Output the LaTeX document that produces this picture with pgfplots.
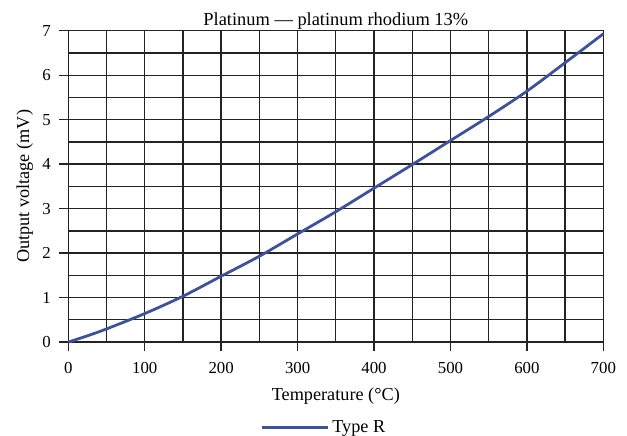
\documentclass[border=0pt]{standalone}
\usepackage{pgfplots}
\pgfplotsset{compat=1.18}
\usepackage{fontspec}
\setmainfont{Liberation Serif}
\definecolor{curveblue}{RGB}{61,82,155}
\definecolor{gridc}{RGB}{35,35,35}
\begin{document}
\fontsize{11.4}{13.7}\selectfont
\begin{tikzpicture}[font=\fontsize{11.4}{13.7}\selectfont]
\begin{axis}[
  scale only axis,
  width=334.4pt, height=194.6pt,
  xmin=0, xmax=700, ymin=0, ymax=7,
  xtick={0,100,...,700}, ytick={0,1,...,7},
  minor x tick num=1, minor y tick num=1,
  grid=both,
  major grid style={gridc, line width=0.85pt},
  minor grid style={gridc, line width=0.85pt},
  axis line style={gridc, line width=0.85pt},
  tick style={gridc, line width=0.85pt},
  tick align=outside, tick pos=left,
  major tick length=5.9pt, minor tick length=0pt,
  /pgf/number format/assume math mode=true,
  ticklabel style={font=\fontsize{10.5}{12}\selectfont},
  xticklabel style={yshift=-2.5pt},
  yticklabel style={xshift=-1pt},
  title={Platinum --- platinum rhodium 13\%},
  title style={at={(axis description cs:0.5,1)}, anchor=base, yshift=-2.5pt, font=\fontsize{11.5}{13.8}\selectfont},
  xlabel={Temperature (°C)},
  xlabel style={at={(axis description cs:0.5,0)}, anchor=base, yshift=-36.3pt, font=\fontsize{11.4}{13.7}\selectfont},
  ylabel={Output voltage (mV)},
  ylabel style={at={(axis description cs:-0.0815,0.5)}, anchor=center, font=\fontsize{11.4}{13.7}\selectfont},
  legend style={at={(axis description cs:0.5,0)}, anchor=center, yshift=-53.5pt, xshift=-7pt, draw=none, fill=none, inner sep=0pt, outer sep=0pt, font=\fontsize{11.4}{13.7}\selectfont},
  legend image code/.code={\draw[#1] (0pt,0pt) -- (41pt,0pt);},
  clip=false,
]
\addplot[curveblue, line width=1.75pt, smooth] coordinates {
(0,0) (25,0.14) (50,0.295) (100,0.64) (150,1.03) (200,1.48) (250,1.93)
(300,2.43) (350,2.93) (400,3.46) (450,3.99) (500,4.53) (550,5.07)
(600,5.64) (650,6.28) (700,6.93)
};
\addlegendentry{Type R}
\end{axis}
\pgfresetboundingbox
\useasboundingbox (-42.7pt,-58.1pt) rectangle (349.2pt,213.8pt);
\end{tikzpicture}
\end{document}
